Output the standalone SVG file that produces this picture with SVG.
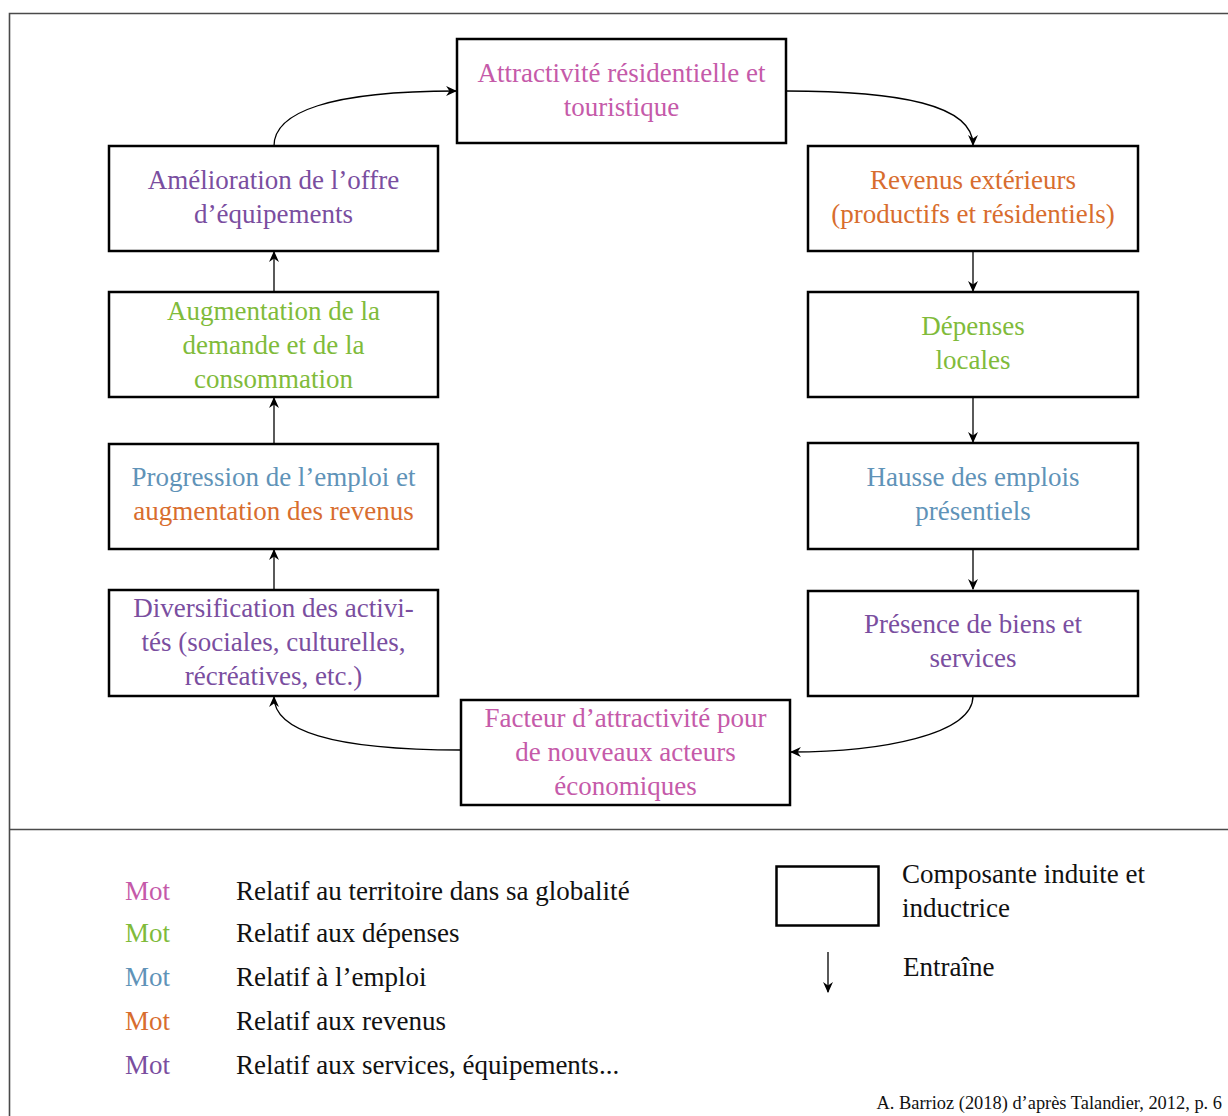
<svg xmlns="http://www.w3.org/2000/svg" width="1228" height="1116" viewBox="0 0 1228 1116">
<style>
text{font-family:"Liberation Serif","Times New Roman",serif;font-size:27px;text-anchor:middle}
.box{fill:#fff;stroke:#000;stroke-width:2.5}
.con{fill:none;stroke:#000;stroke-width:1.3}
.frame{fill:none;stroke:#4a4a4a;stroke-width:1.6}
.pink{fill:#c55aa9}.green{fill:#80bb3a}.blue{fill:#5f93b8}.orange{fill:#d86d2e}.purple{fill:#7a4e9f}
.lg{text-anchor:start;fill:#111}
.mot{text-anchor:start}
</style>
<defs>
<marker id="ah" viewBox="0 0 10 10" refX="9" refY="5" markerWidth="11" markerHeight="11" markerUnits="userSpaceOnUse" orient="auto">
<path d="M0,0.5 L10,5 L0,9.5 L3,5 Z" fill="#000"/>
</marker>
</defs>
<rect width="1228" height="1116" fill="#fff"/>
<g id="frame">
<path class="frame" d="M9.5,1116 V13.5 H1228"/>
<path class="frame" d="M9.5,829.5 H1228"/>
</g>
<g id="connectors">
<path class="con" d="M274,146 C274,112 330,91 456,91" marker-end="url(#ah)"/>
<path class="con" d="M786,91 C900,91 973,105 973,145" marker-end="url(#ah)"/>
<path class="con" d="M973,251 V291" marker-end="url(#ah)"/>
<path class="con" d="M973,397 V442" marker-end="url(#ah)"/>
<path class="con" d="M973,549 V589" marker-end="url(#ah)"/>
<path class="con" d="M973,696 C973,735 880,752 791,752" marker-end="url(#ah)"/>
<path class="con" d="M461,750 C330,750 274,730 274,697" marker-end="url(#ah)"/>
<path class="con" d="M274,590 V550" marker-end="url(#ah)"/>
<path class="con" d="M274,444 V398" marker-end="url(#ah)"/>
<path class="con" d="M274,292 V252" marker-end="url(#ah)"/>
</g>
<g id="n-attractivite">
<rect class="box" x="457" y="39" width="329" height="104"/>
<text class="pink" x="621.5" y="82">Attractivité résidentielle et</text>
<text class="pink" x="621.5" y="116">touristique</text>
</g>
<g id="n-revenus">
<rect class="box" x="808" y="146" width="330" height="105"/>
<text class="orange" x="973" y="189">Revenus extérieurs</text>
<text class="orange" x="973" y="223">(productifs et résidentiels)</text>
</g>
<g id="n-depenses">
<rect class="box" x="808" y="292" width="330" height="105"/>
<text class="green" x="973" y="335">Dépenses</text>
<text class="green" x="973" y="369">locales</text>
</g>
<g id="n-hausse">
<rect class="box" x="808" y="443" width="330" height="106"/>
<text class="blue" x="973" y="486">Hausse des emplois</text>
<text class="blue" x="973" y="520">présentiels</text>
</g>
<g id="n-presence">
<rect class="box" x="808" y="591" width="330" height="105"/>
<text class="purple" x="973" y="633">Présence de biens et</text>
<text class="purple" x="973" y="667">services</text>
</g>
<g id="n-facteur">
<rect class="box" x="461" y="700" width="329" height="105"/>
<text class="pink" x="625.5" y="727">Facteur d’attractivité pour</text>
<text class="pink" x="625.5" y="761">de nouveaux acteurs</text>
<text class="pink" x="625.5" y="795">économiques</text>
</g>
<g id="n-diversification">
<rect class="box" x="109" y="590" width="329" height="106"/>
<text class="purple" x="273.5" y="617">Diversification des activi-</text>
<text class="purple" x="273.5" y="651">tés (sociales, culturelles,</text>
<text class="purple" x="273.5" y="685">récréatives, etc.)</text>
</g>
<g id="n-progression">
<rect class="box" x="109" y="444" width="329" height="105"/>
<text class="blue" x="273.5" y="486">Progression de l’emploi et</text>
<text class="orange" x="273.5" y="520">augmentation des revenus</text>
</g>
<g id="n-augmentation">
<rect class="box" x="109" y="292" width="329" height="105"/>
<text class="green" x="273.5" y="320">Augmentation de la</text>
<text class="green" x="273.5" y="354">demande et de la</text>
<text class="green" x="273.5" y="388">consommation</text>
</g>
<g id="n-amelioration">
<rect class="box" x="109" y="146" width="329" height="105"/>
<text class="purple" x="273.5" y="189">Amélioration de l’offre</text>
<text class="purple" x="273.5" y="223">d’équipements</text>
</g>
<g id="legend">
<text class="mot pink" x="125" y="900">Mot</text>
<text class="lg" x="236" y="900">Relatif au territoire dans sa globalité</text>
<text class="mot green" x="125" y="942">Mot</text>
<text class="lg" x="236" y="942">Relatif aux dépenses</text>
<text class="mot blue" x="125" y="986">Mot</text>
<text class="lg" x="236" y="986">Relatif à l’emploi</text>
<text class="mot orange" x="125" y="1030">Mot</text>
<text class="lg" x="236" y="1030">Relatif aux revenus</text>
<text class="mot purple" x="125" y="1074">Mot</text>
<text class="lg" x="236" y="1074">Relatif aux services, équipements...</text>
<rect class="box" x="776.5" y="866.5" width="102" height="59"/>
<text class="lg" x="902" y="883">Composante induite et</text>
<text class="lg" x="902" y="917">inductrice</text>
<path class="con" d="M828,952 V992" marker-end="url(#ah)"/>
<text class="lg" x="903" y="976">Entraîne</text>
<text x="1222" y="1109" style="font-size:18.4px;text-anchor:end;fill:#111">A. Barrioz (2018) d’après Talandier, 2012, p. 6</text>
</g>
</svg>
